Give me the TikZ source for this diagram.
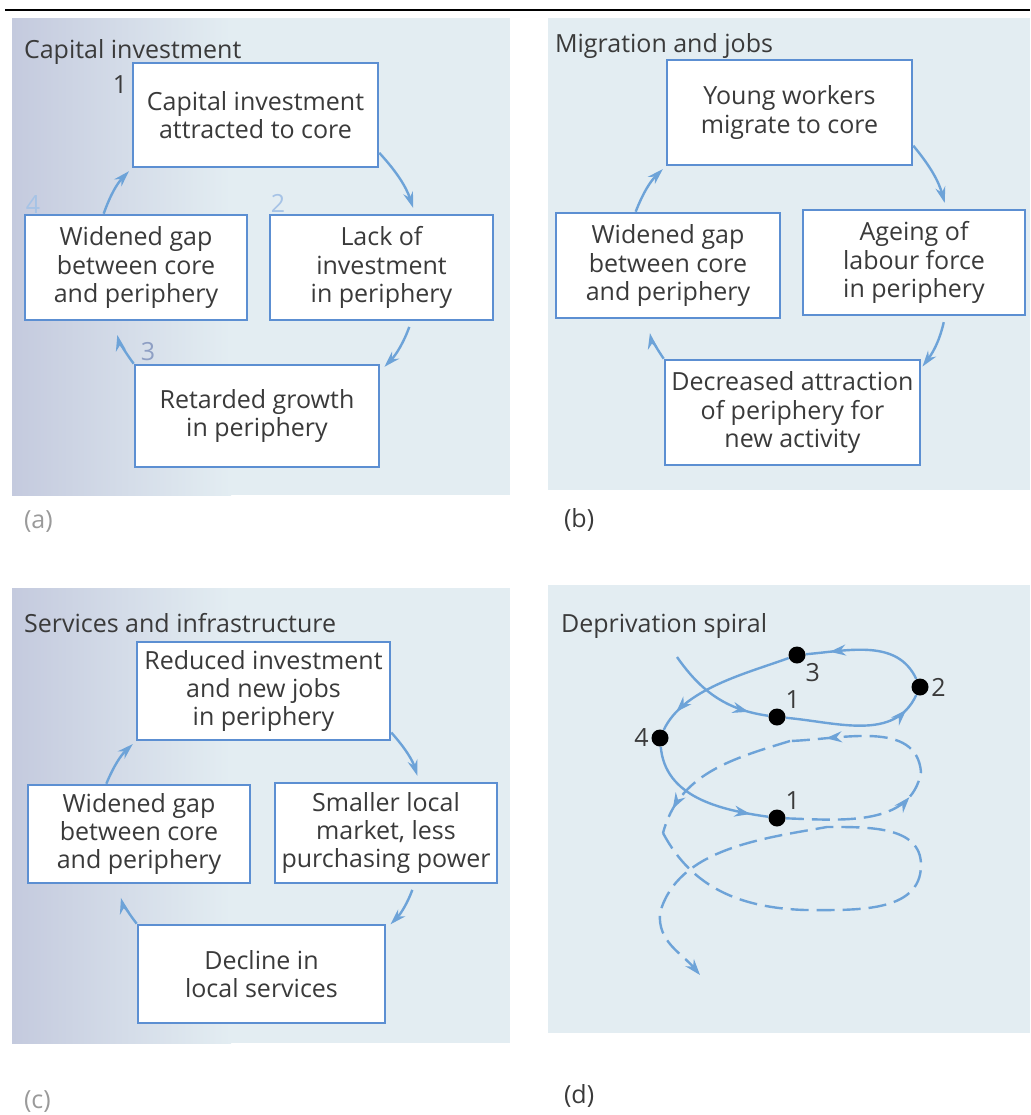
\documentclass[tikz,border=0pt]{standalone}
\usepackage{fontspec}
\setmainfont{Open Sans}
\usetikzlibrary{positioning, arrows.meta, decorations.markings}
\definecolor{panelbg}{HTML}{E3EDF2}
\definecolor{shadeleft}{HTML}{C4CADE}
\definecolor{boxblue}{HTML}{5C8FD2}
\definecolor{arrowblue}{HTML}{6DA3D8}
\definecolor{inkgray}{HTML}{3A3A3A}
\definecolor{numblue}{HTML}{A6C3E6}
\definecolor{numslate}{HTML}{8E9FC4}
\definecolor{fadegray}{HTML}{9A9A9A}
\newcommand{\cyclefont}{\fontsize{12.5pt}{14.2pt}\selectfont}

\begin{document}
\begin{tikzpicture}[x=0.5pt, y=0.5pt,
  cyclebox/.style={draw=boxblue, line width=1.3pt, fill=white, text=inkgray,
    align=center, font=\cyclefont, inner sep=1pt},
  cyclearrow/.style={draw=arrowblue, line width=1.2pt,
    -{Stealth[length=8pt, width=5pt]}, bend left=12},
  paneltitle/.style={anchor=base west, text=inkgray, font=\cyclefont},
  panelletter/.style={anchor=base west, font=\cyclefont},
  spiraldot/.style={circle, fill=black, minimum size=8.5pt, inner sep=0pt},
  spiralnum/.style={text=inkgray, font=\cyclefont, inner sep=1pt},
  spiralline/.style={draw=arrowblue, line width=1.2pt},
  spiraldash/.style={spiralline, dash pattern=on 9pt off 4pt},
  midarrow/.style={postaction={decorate}, decoration={markings,
    mark=at position #1 with {\arrow{Stealth[length=8pt, width=5.5pt]}}}}]
\useasboundingbox (0,0) rectangle (1030,-1115);

% panels
\draw[line width=1.2pt] (5,-10) -- (1030,-10);
\fill[panelbg] (230,-18) rectangle (510,-495);
\fill[left color=shadeleft, right color=panelbg] (12,-18) rectangle (231,-495);
\fill[panelbg] (548,-18) rectangle (1030,-490);
\fill[panelbg] (230,-588) rectangle (510,-1043);
\fill[left color=shadeleft, right color=panelbg] (12,-588) rectangle (231,-1043);
\fill[panelbg] (548,-585) rectangle (1030,-1033);

% (a) capital investment
\node[paneltitle] (titleA) at (17,-58) {Capital investment};
\node[cyclebox, minimum width=122.5pt, minimum height=52pt] (A1) at (255.5,-115)
  {Capital investment\\attracted to core};
\node[cyclebox, minimum width=111.5pt, minimum height=52.5pt] (A2) at (381.5,-267.5)
  {Lack of\\investment\\in periphery};
\node[cyclebox, minimum width=122pt, minimum height=51pt] (A3) at (257,-416)
  {Retarded growth\\in periphery};
\node[cyclebox, minimum width=111pt, minimum height=52.5pt] (A4) at (136,-267.5)
  {Widened gap\\between core\\and periphery};
\node[font=\cyclefont, text=inkgray] (numA1) at (120,-85) {1};
\node[font=\cyclefont, text=numblue] (numA2) at (278,-203) {2};
\node[font=\cyclefont, text=numslate] (numA3) at (148,-352) {3};
\node[font=\cyclefont, text=numblue] (numA4) at (33,-205) {4};
\draw[cyclearrow, shorten >=3pt] (A1.-17) to (A2.58);
\draw[cyclearrow, shorten <=3pt, shorten >=3pt] (A2.-61) to (A3.20);
\draw[cyclearrow, shorten >=7pt] (A3.north west) to (A4.-112);
\draw[cyclearrow, shorten >=2pt] (A4.121) to (A1.south west);
\node[panelletter, text=fadegray] (labA) at (17,-528) {(a)};

% (b) migration and jobs
\node[paneltitle] (titleB) at (548,-52) {Migration and jobs};
\node[cyclebox, minimum width=122.5pt, minimum height=52.5pt] (B1) at (789.5,-112.5)
  {Young workers\\migrate to core};
\node[cyclebox, minimum width=111pt, minimum height=52.5pt] (B2) at (914,-262.5)
  {Ageing of\\labour force\\in periphery};
\node[cyclebox, minimum width=127.5pt, minimum height=52.5pt] (B3) at (792.5,-412.5)
  {Decreased attraction\\of periphery for\\new activity};
\node[cyclebox, minimum width=112pt, minimum height=52.5pt] (B4) at (668,-265.5)
  {Widened gap\\between core\\and periphery};
\draw[cyclearrow, shorten >=3pt] (B1.-15) to (B2.59);
\draw[cyclearrow, shorten <=3pt, shorten >=1pt] (B2.-60) to (B3.19);
\draw[cyclearrow, shorten >=7pt] (B3.north west) to (B4.-111);
\draw[cyclearrow, shorten >=2pt] (B4.121) to (B1.south west);
\node[panelletter, text=inkgray] (labB) at (557,-527) {(b)};

% (c) services and infrastructure
\node[paneltitle] (titleC) at (17,-632) {Services and infrastructure};
\node[cyclebox, minimum width=126.5pt, minimum height=49pt] (C1) at (263.5,-691)
  {Reduced investment\\and new jobs\\in periphery};
\node[cyclebox, minimum width=111pt, minimum height=50pt] (C2) at (386,-833)
  {Smaller local\\market, less\\purchasing power};
\node[cyclebox, minimum width=123.5pt, minimum height=49pt] (C3) at (261.5,-974)
  {Decline in\\local services};
\node[cyclebox, minimum width=111pt, minimum height=49pt] (C4) at (139,-834)
  {Widened gap\\between core\\and periphery};
\draw[cyclearrow, shorten >=3pt] (C1.-18) to (C2.57);
\draw[cyclearrow, shorten <=3pt, shorten >=3pt] (C2.-61) to (C3.20);
\draw[cyclearrow, shorten >=7pt] (C3.north west) to (C4.-113);
\draw[cyclearrow, shorten >=2pt] (C4.123) to (C1.south west);
\node[panelletter, text=fadegray] (labC) at (17,-1108) {(c)};

% (d) deprivation spiral
\node[paneltitle] (titleD) at (554,-632) {Deprivation spiral};
\node[spiraldot, label={[spiralnum]above right:1}] (s1) at (777,-717) {};
\node[spiraldot, label={[spiralnum]right:2}] (s2) at (920,-687) {};
\node[spiraldot, label={[spiralnum]below right:3}] (s3) at (797,-655) {};
\node[spiraldot, label={[spiralnum]left:4}] (s4) at (660,-738) {};
\node[spiraldot, label={[spiralnum]above right:1}] (s5) at (777,-818) {};
\coordinate (sin) at (677,-657);
\coordinate (q1) at (921,-772);
\coordinate (q2) at (790,-741);
\coordinate (q3) at (663,-833);
\coordinate (q4) at (805,-910);
\coordinate (q5) at (921,-865);
\coordinate (q6) at (827,-827);
\coordinate (q7) at (660,-913);
\coordinate (qend) at (700,-975);
\draw[spiralline, midarrow=-10pt] (sin) to[out=-55, in=172] (s1);
\draw[spiralline, midarrow=-9pt] (s1) to[out=-5, in=-115] (s2);
\draw[spiralline, midarrow=-12pt] (s2) to[out=115, in=5] (s3);
\draw[spiralline, midarrow=-11pt] (s3) to[out=200, in=65, looseness=0.8] (s4);
\draw[spiralline, midarrow=-9pt] (s4) to[out=-85, in=172] (s5);
\draw[spiraldash, midarrow=-14pt] (s5) to[out=-2, in=-100] (q1);
\draw[spiraldash, midarrow=-18pt] (q1) to[out=95, in=2] (q2);
\draw[spiraldash, midarrow=-13pt] (q2) to[out=197, in=75] (q3);
\draw[spiraldash, -{Stealth[length=8pt, width=5.5pt]}] (q3)
  to[out=-62, in=178] (q4)
  to[out=0, in=-90] (q5) to[out=90, in=0] (q6) to[out=190, in=75, looseness=0.9] (q7)
  to[out=-95, in=130] (qend);
\node[panelletter, text=inkgray] (labD) at (557,-1103) {(d)};
\end{tikzpicture}
\end{document}
